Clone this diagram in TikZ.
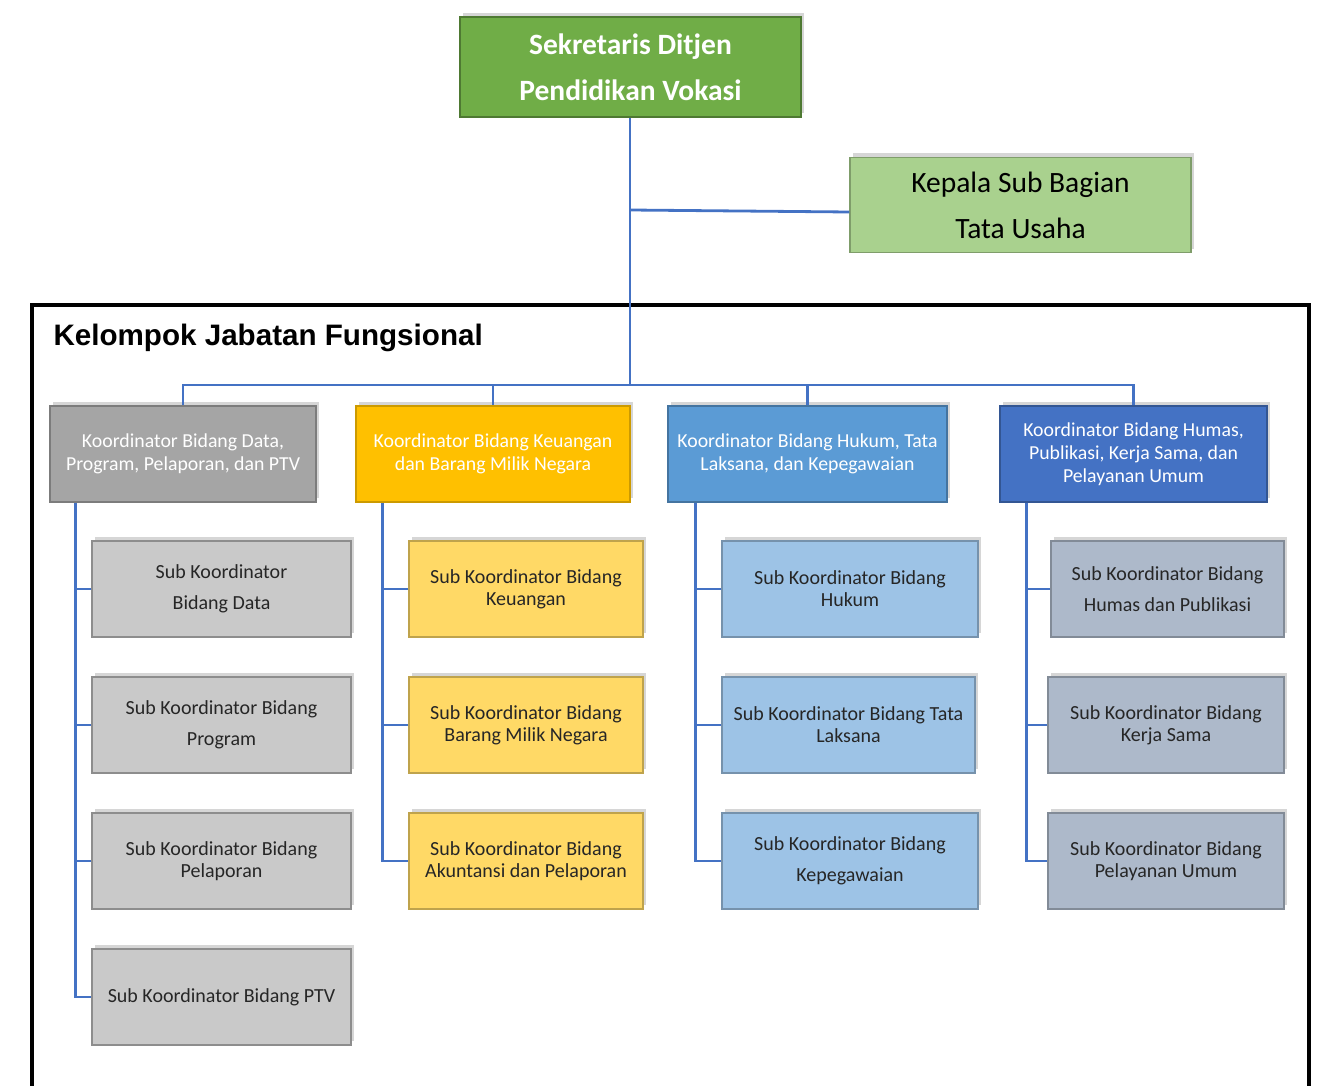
\documentclass[tikz,border=0pt]{standalone}
\usepackage{fontspec}
\setmainfont{Carlito}
\newfontfamily\titlefont{Liberation Sans}
\usetikzlibrary{positioning,shadows}
\definecolor{lineblue}{HTML}{4472C4}
\definecolor{topgreen}{HTML}{70AD47}
\definecolor{tugreen}{HTML}{A9D18E}
\definecolor{kgray}{HTML}{A5A5A5}
\definecolor{kgold}{HTML}{FFC000}
\definecolor{kblue}{HTML}{5B9BD5}
\definecolor{kdark}{HTML}{4472C4}
\definecolor{sgray}{HTML}{C9C9C9}
\definecolor{sgold}{HTML}{FFD966}
\definecolor{sblue}{HTML}{9DC3E6}
\definecolor{sslate}{HTML}{ADB9CA}
\begin{document}
\begin{tikzpicture}[x=1pt,y=-1pt,
    box/.style={draw,line width=1.4pt,align=center,inner sep=2pt,
      drop shadow={shadow xshift=3pt,shadow yshift=4pt,fill=black!40,opacity=.4}},
    koor/.style={box,text=white,minimum height=96pt,font=\fontsize{19.8}{23}\selectfont},
    subk/.style={box,text=black!85,minimum width=#1,minimum height=96pt,font=\fontsize{20}{22}\selectfont},
    link/.style={lineblue,line width=2.4pt}]
  \useasboundingbox (0,0) rectangle (1317,1086);
  % frame of the functional group
  \draw[line width=4pt] (32,1090) -- (32,305) -- (1309,305) -- (1309,1090);
  \node[anchor=west,font=\titlefont\bfseries\fontsize{29.6}{33}\selectfont] (title) at (50,338) {Kelompok Jabatan Fungsional};
  % top level
  \node[box,fill=topgreen,draw=topgreen!70!black,text=white,minimum width=341pt,minimum height=100pt,
    font=\bfseries\fontsize{29.5}{46}\selectfont] (sek) at (630.5,67) {Sekretaris Ditjen\\Pendidikan Vokasi};
  \node[box,fill=tugreen,draw=tugreen!75!black,text=black,minimum width=341pt,minimum height=95pt,
    font=\fontsize{29.5}{46}\selectfont] (ktu) at (1020.5,205) {Kepala Sub Bagian\\Tata Usaha};
  % koordinator
  \node[koor,fill=kgray,draw=kgray!75!black,minimum width=266pt] (k1) at (183,454) {Koordinator Bidang Data,\\Program, Pelaporan, dan PTV};
  \node[koor,fill=kgold,draw=kgold!80!black,minimum width=274pt] (k2) at (493,454) {Koordinator Bidang Keuangan\\dan Barang Milik Negara};
  \node[koor,fill=kblue,draw=kblue!75!black,minimum width=279pt] (k3) at (807.5,454) {Koordinator Bidang Hukum, Tata\\Laksana, dan Kepegawaian};
  \node[koor,fill=kdark,draw=kdark!75!black,minimum width=267pt] (k4) at (1133.5,454) {Koordinator Bidang Humas,\\Publikasi, Kerja Sama, dan\\Pelayanan Umum};
  % sub koordinator
  \node[subk=259pt,fill=sgray,draw=sgray!70!black] (s11) at (221.5,589) {Sub Koordinator\\[9pt]Bidang Data};
  \node[subk=259pt,fill=sgray,draw=sgray!70!black] (s12) at (221.5,725) {Sub Koordinator Bidang\\[9pt]Program};
  \node[subk=259pt,fill=sgray,draw=sgray!70!black] (s13) at (221.5,861) {Sub Koordinator Bidang\\Pelaporan};
  \node[subk=259pt,fill=sgray,draw=sgray!70!black] (s14) at (221.5,997) {Sub Koordinator Bidang PTV};
  \node[subk=234pt,fill=sgold,draw=sgold!75!black] (s21) at (526,589) {Sub Koordinator Bidang\\Keuangan};
  \node[subk=234pt,fill=sgold,draw=sgold!75!black] (s22) at (526,725) {Sub Koordinator Bidang\\Barang Milik Negara};
  \node[subk=234pt,fill=sgold,draw=sgold!75!black] (s23) at (526,861) {Sub Koordinator Bidang\\Akuntansi dan Pelaporan};
  \node[subk=256pt,fill=sblue,draw=sblue!75!black] (s31) at (850,589) {Sub Koordinator Bidang\\Hukum};
  \node[subk=253pt,fill=sblue,draw=sblue!75!black] (s32) at (848.5,725) {Sub Koordinator Bidang Tata\\Laksana};
  \node[subk=256pt,fill=sblue,draw=sblue!75!black] (s33) at (850,861) {Sub Koordinator Bidang\\[9pt]Kepegawaian};
  \node[subk=233pt,fill=sslate,draw=sslate!75!black] (s41) at (1167.5,589) {Sub Koordinator Bidang\\[9pt]Humas dan Publikasi};
  \node[subk=236pt,fill=sslate,draw=sslate!75!black] (s42) at (1166,725) {Sub Koordinator Bidang\\Kerja Sama};
  \node[subk=236pt,fill=sslate,draw=sslate!75!black] (s43) at (1166,861) {Sub Koordinator Bidang\\Pelayanan Umum};
  % connectors
  \coordinate (bus) at (630,385);
  \coordinate (tap) at (630,210);
  \coordinate (tuin) at (ktu.west |- 0,212);
  \coordinate (sp1) at ([xshift=26pt]k1.south west);
  \coordinate (sp2) at ([xshift=27pt]k2.south west);
  \coordinate (sp3) at ([xshift=28pt]k3.south west);
  \coordinate (sp4) at ([xshift=27pt]k4.south west);
  \draw[link,line width=2.8pt] (sek.south -| bus) -- (bus);
  \draw[link,line width=2.8pt] (tap) -- (tuin);
  \draw[link] (k1.north) |- (bus) -| (k4.north);
  \draw[link] (k2.north) -- (k2.north |- bus);
  \draw[link] (k3.north) -- (k3.north |- bus);
  \draw[link] (sp1) |- (s14.west);
  \draw[link] (sp2) |- (s23.west);
  \draw[link] (sp3) |- (s33.west);
  \draw[link] (sp4) |- (s43.west);
  \foreach \k/\s in {1/11,1/12,1/13,2/21,2/22,3/31,3/32,4/41,4/42}
    \draw[link] (s\s.west) -- (s\s.west -| sp\k);
\end{tikzpicture}
\end{document}
